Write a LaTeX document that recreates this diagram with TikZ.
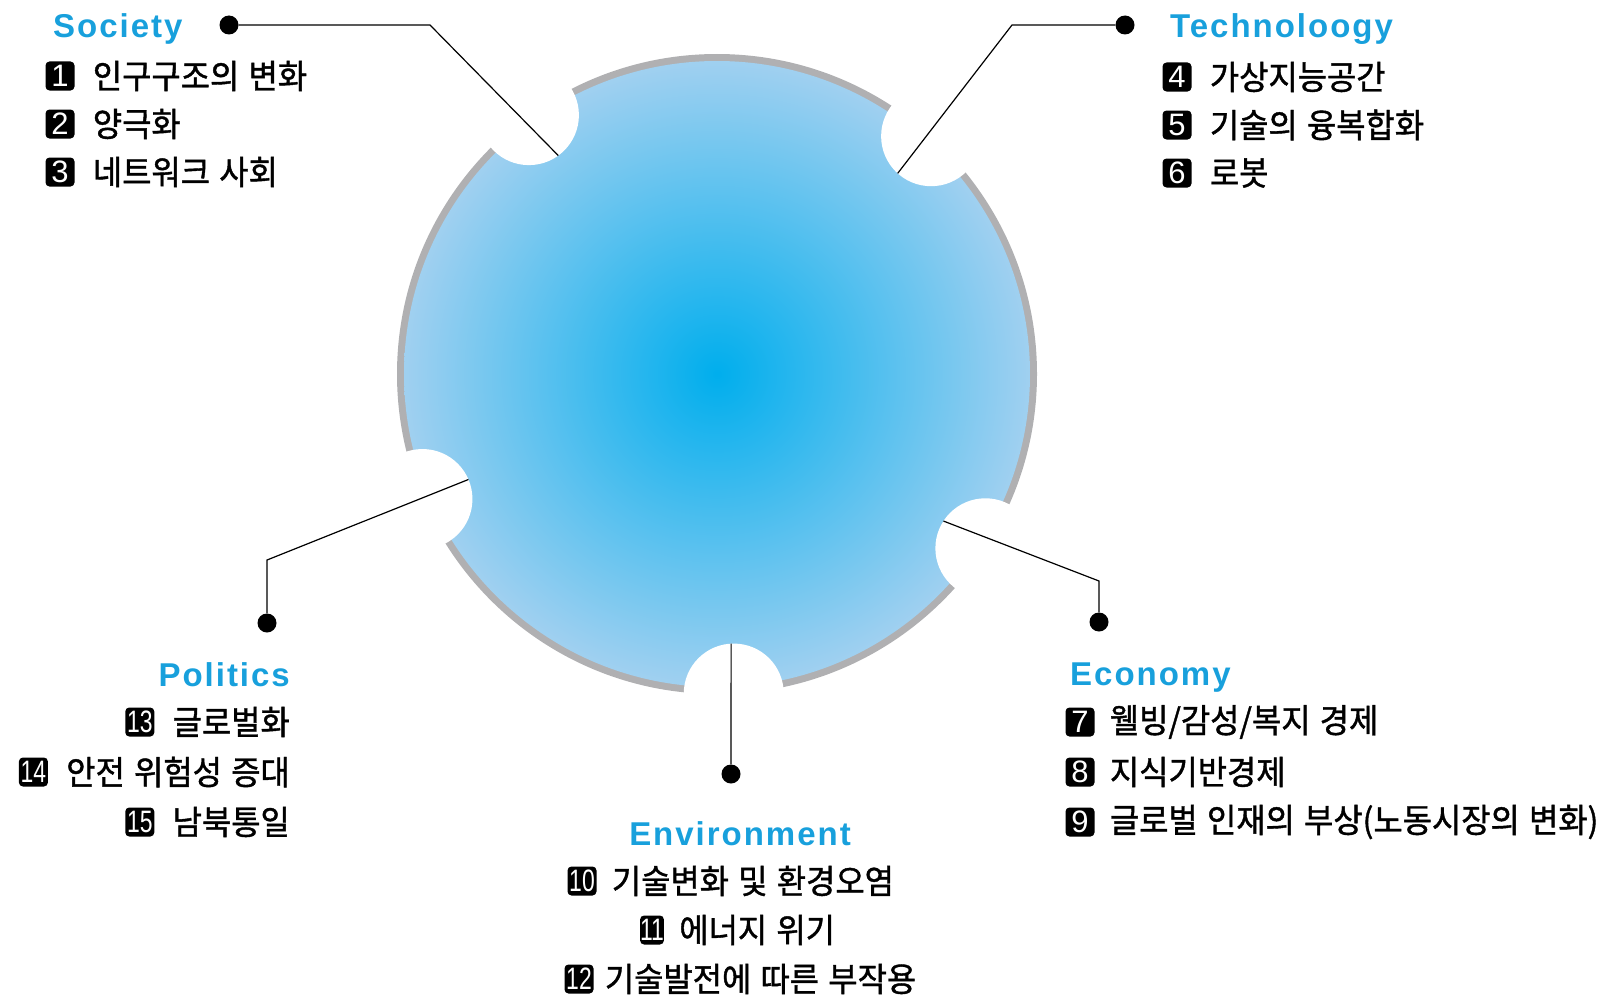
\documentclass[tikz,border=0pt]{standalone}
\usepackage{fontspec}
\usepackage{graphicx}
\setmainfont{Liberation Sans}
\newfontfamily\krfont[WordSpace=1.3,FakeStretch=0.95,FakeBold=1.2]{Noto Sans CJK KR}
\newfontfamily\headfont[LetterSpace=6]{Liberation Sans Bold}
\usetikzlibrary{positioning,calc}
\definecolor{headcyan}{RGB}{24,160,220}
\definecolor{ballcore}{RGB}{0,174,237}
\definecolor{balledge}{RGB}{160,208,240}
\definecolor{rimgray}{RGB}{176,176,178}
% two digits squeezed into one badge
\newcommand{\dd}[1]{\scalebox{0.74}[1]{#1}}

\begin{document}
\begin{tikzpicture}[x=1pt,y=1pt,
  head/.style={font=\headfont\fontsize{33}{33}\selectfont,text=headcyan,inner sep=0pt},
  item/.style={font=\krfont\fontsize{33.5}{38}\selectfont,inner sep=0pt},
  num/.style={fill=black,text=white,rounded corners=4pt,minimum width=29pt,minimum height=29pt,inner sep=0pt,font=\fontsize{31}{31}\selectfont},
  narrow/.style={minimum width=22pt},
  dot/.style={circle,fill=black,minimum size=19pt,inner sep=0pt},
  lead/.style={line width=1.2pt}]
\useasboundingbox (0,0) rectangle (1612,-998);
% ball with rim
\coordinate (c) at (717,-374);
\fill[rimgray] (c) circle (320);
\shade[inner color=ballcore,outer color=balledge] (c) circle (313);
% bites out of the rim, and where each lead starts
\foreach \n/\a in {soc/126,tec/48,pol/203,eco/-33,env/-87}{
  \fill[white] ($(c)+(\a:320)$) circle (50);
  \coordinate (\n-in) at ($(c)+(\a:270)$);
}
% leads
\node[dot] (soc-d) at (229,-25) {};
\node[dot] (tec-d) at (1125,-25) {};
\node[dot] (pol-d) at (267,-623) {};
\node[dot] (eco-d) at (1099,-622) {};
\node[dot] (env-d) at (731,-774) {};
\coordinate (soc-k) at (430,-25);
\coordinate (tec-k) at (1012,-25);
\coordinate (pol-k) at (267,-560);
\coordinate (eco-k) at (1099,-581);
\draw[lead] (soc-d) -- (soc-k) -- (soc-in);
\draw[lead] (tec-d) -- (tec-k) -- (tec-in);
\draw[lead] (pol-d) -- (pol-k) -- (pol-in);
\draw[lead] (eco-d) -- (eco-k) -- (eco-in);
\draw[lead] (env-d) -- (env-in);
% Society
\node[head,anchor=base west] (socH) at (53,-38) {Society};
\node[num] (n1) at (60,-76) {1};
\node[item,right=18pt of n1] (t1) {인구구조의 변화};
\node[num] (n2) at (60,-124) {2};
\node[item,right=18pt of n2] (t2) {양극화};
\node[num] (n3) at (60,-172) {3};
\node[item,right=18pt of n3] (t3) {네트워크 사회};
% Technology
\node[head,anchor=base west] (tecH) at (1170,-38) {Technoloogy};
\node[num] (n4) at (1177,-77) {4};
\node[item,right=18pt of n4] (t4) {가상지능공간};
\node[num] (n5) at (1177,-125) {5};
\node[item,right=18pt of n5] (t5) {기술의 융복합화};
\node[num] (n6) at (1177,-173) {6};
\node[item,right=18pt of n6] (t6) {로봇};
% Economy
\node[head,anchor=base west] (ecoH) at (1070,-685) {Economy};
\node[num] (n7) at (1080,-722) {7};
\node[item,right=15pt of n7] (t7) {웰빙/감성/복지 경제};
\node[num] (n8) at (1080,-772) {8};
\node[item,right=15pt of n8] (t8) {지식기반경제};
\node[num] (n9) at (1080,-822) {9};
\node[item,right=15pt of n9] (t9) {글로벌 인재의 부상(노동시장의 변화)};
% Environment
\node[head,anchor=base] (envH) at (740,-845) {Environment};
\node[num] (n10) at (582,-881) {\dd{10}};
\node[item,right=15pt of n10] (t10) {기술변화 및 환경오염};
\node[num,narrow] (n11) at (652,-930) {\dd{11}};
\node[item,right=15pt of n11] (t11) {에너지 위기};
\node[num] (n12) at (579,-979) {\dd{12}};
\node[item,right=11pt of n12] (t12) {기술발전에 따른 부작용};
% Politics
\node[head,anchor=base east] (polH) at (290,-686) {Politics};
\node[item,anchor=east] (t13) at (290,-722) {글로벌화};
\node[num,left=18pt of t13] (n13) {\dd{13}};
\node[item,anchor=east] (t14) at (290,-772) {안전 위험성 증대};
\node[num,left=18pt of t14] (n14) {\dd{14}};
\node[item,anchor=east] (t15) at (290,-822) {남북통일};
\node[num,left=18pt of t15] (n15) {\dd{15}};
\end{tikzpicture}
\end{document}
